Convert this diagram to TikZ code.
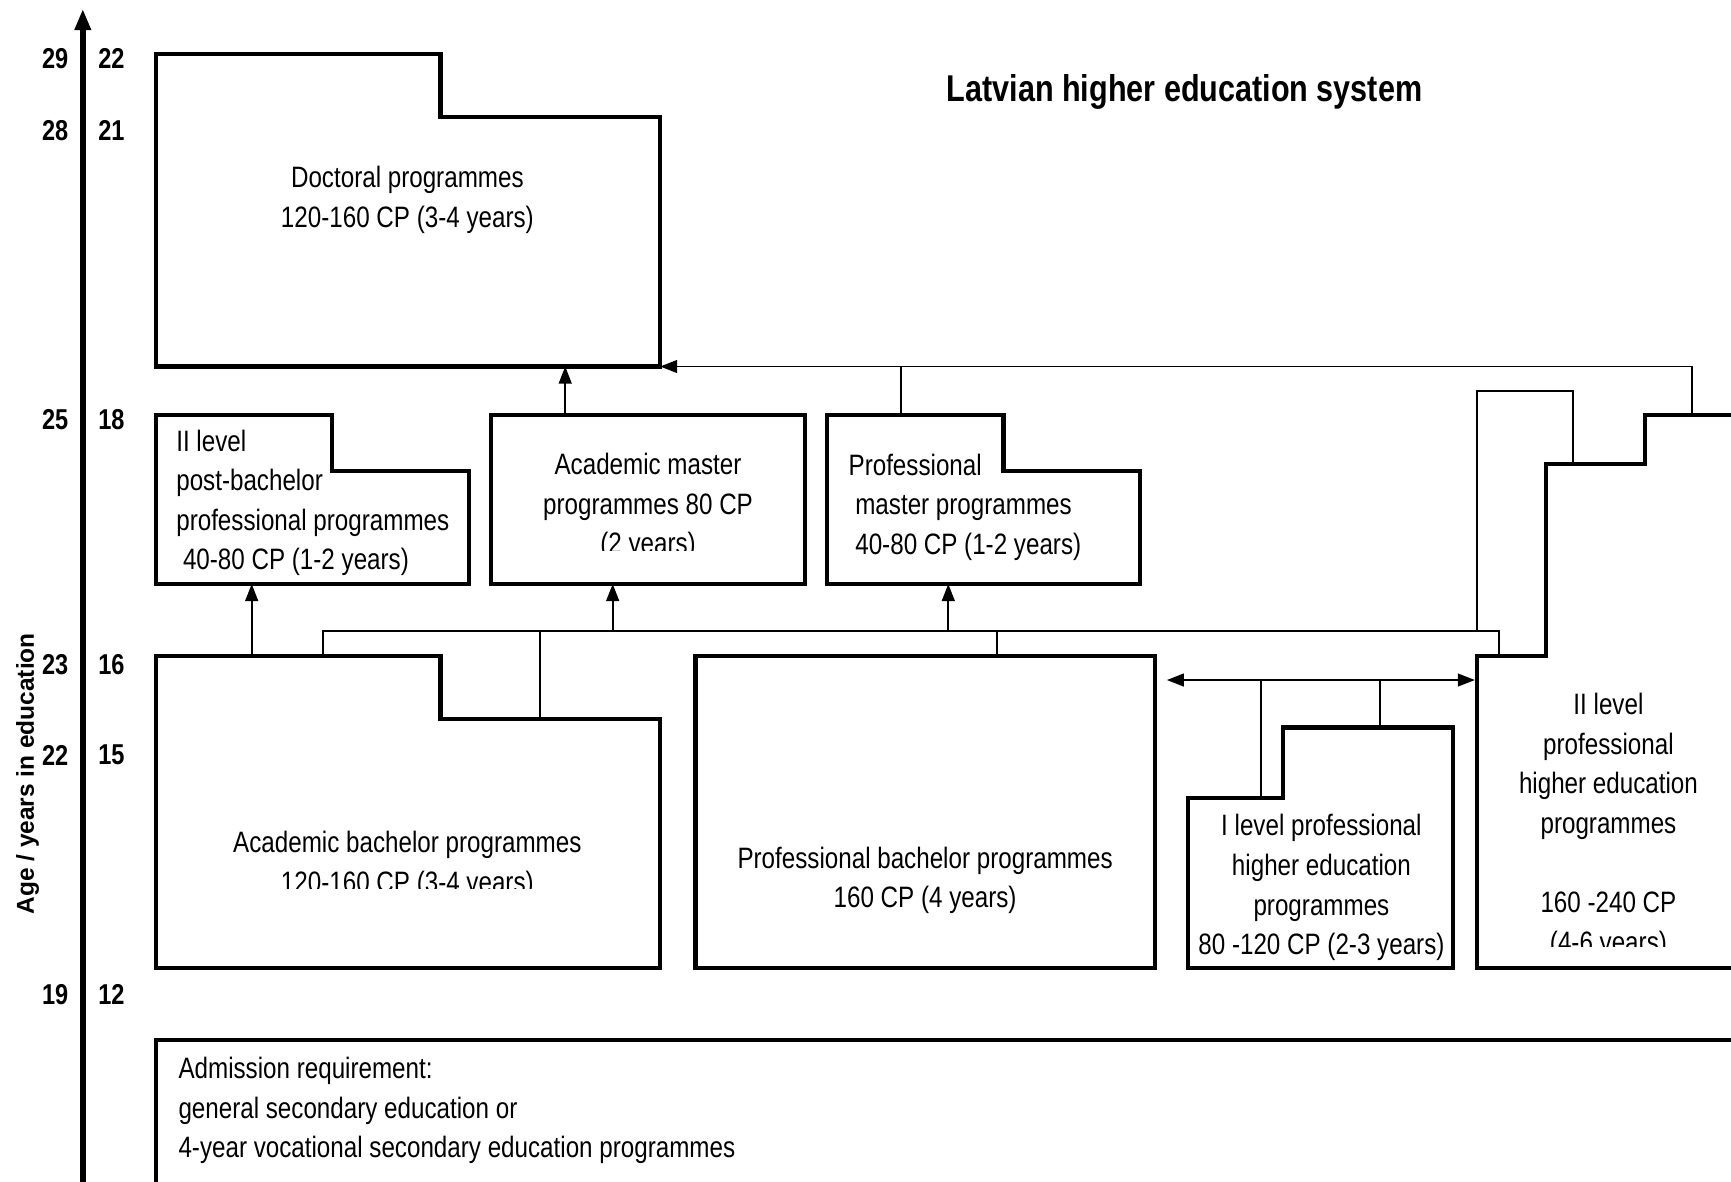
\documentclass[tikz,border=0pt]{standalone}
\usepackage{fontspec}
\setmainfont{Liberation Sans}[FakeStretch=0.82]
\newfontfamily\widefont{Liberation Sans}
\usetikzlibrary{arrows,arrows.meta}

\begin{document}
\begin{tikzpicture}[x=0.01cm,y=-0.01cm,
	box/.style={line width=1.05pt,line join=miter},
	link/.style={line width=0.5pt},
	arr/.style={link,-{Triangle[length=4.4pt,width=3.3pt]}},
	txt/.style={align=center,inner sep=0pt,font=\fontsize{7.6}{10.2}\selectfont},
	ltxt/.style={txt,align=left,anchor=west},
	num/.style={inner sep=0pt,font=\fontsize{7.4}{9}\selectfont\bfseries}]
	\useasboundingbox (0,0) rectangle (1568,1070);
	% axis
	\coordinate (ax-bot) at (75,1075);
	\coordinate (ax-top) at (75,8);
	\draw[line width=1.4pt,-{Triangle[length=5.5pt,width=4pt]}] (ax-bot) -- (ax-top);
	\foreach \a/\b/\y in {29/22/53,28/21/118,25/18/380,23/16/602,22/15/684,19/12/901} {
		\node[num] (age\a) at (50,\y) {\a};
		\node[num] (yr\b) at (101,\y) {\b};
	}
	\node[rotate=90,inner sep=0pt,font=\widefont\bfseries\fontsize{6.3}{8}\selectfont] (axlabel) at (25,701) {Age / years in education};
	\node[inner sep=0pt,font=\fontsize{9.6}{11}\selectfont\bfseries] (title) at (1073,83) {Latvian higher education system};
	% boxes
	\draw[box] (141,49) -- (399,49) -- (399,106) -- (598,106) -- (598,332) -- (141,332) -- cycle;
	\node[txt] (doc) at (369,181) {Doctoral programmes\\120-160 CP (3-4 years)};
	\draw[box] (141,376) -- (301,376) -- (301,427) -- (425,427) -- (425,529) -- (141,529) -- cycle;
	\node[ltxt] (pbp) at (159,455.5) {II level\\post-bachelor\\professional programmes\\\ 40-80 CP (1-2 years)};
	\draw[box] (445,376) rectangle (729,529);
	\begin{scope}
		\clip (445,376) rectangle (729,499);
		\node[txt] (amp) at (587,459) {Academic master\\programmes 80 CP\\(2 years)};
	\end{scope}
	\draw[box] (749,376) -- (909,376) -- (909,427) -- (1033,427) -- (1033,529) -- (749,529) -- cycle;
	\node[ltxt] (pmp) at (768,459.5) {Professional\\\ master programmes\\\ 40-80 CP (1-2 years)};
	\draw[box] (141,594) -- (399,594) -- (399,651) -- (598,651) -- (598,877) -- (141,877) -- cycle;
	\begin{scope}
		\clip (141,594) rectangle (598,805);
		\node[txt] (abp) at (369,783.5) {Academic bachelor programmes\\120-160 CP (3-4 years)};
	\end{scope}
	\draw[box] (630,594) rectangle (1046,877);
	\node[txt] (prb) at (838,797.5) {Professional bachelor programmes\\160 CP (4 years)};
	\draw[box] (1076,723) -- (1162,723) -- (1162,659) -- (1316,659) -- (1316,877) -- (1076,877) -- cycle;
	\node[txt] (ilv) at (1197,804) {I level professional\\higher education\\programmes\\80 -120 CP (2-3 years)};
	\draw[box] (1575,877) -- (1338,877) -- (1338,594) -- (1400,594) -- (1400,420) -- (1490,420) -- (1490,376) -- (1575,376);
	\begin{scope}
		\clip (1338,594) rectangle (1568,857);
		\node[txt] (iilv) at (1457,748) {II level\\professional\\higher education\\programmes\\ \\160 -240 CP\\(4-6 years)};
	\end{scope}
	\draw[box] (1575,942) -- (141,942) -- (141,1075);
	\node[ltxt] (adm) at (161,1006) {Admission requirement:\\general secondary education or\\4-year vocational secondary education programmes};
	% connector ends
	\coordinate (doc-s) at (512,332);
	\coordinate (doc-se) at (598,332);
	\coordinate (amp-n) at (512,376);
	\coordinate (pmp-n) at (816,376);
	\coordinate (pmp-up) at (816,332);
	\coordinate (iilv-n) at (1533,376);
	\coordinate (iilv-up) at (1533,332);
	\coordinate (pbp-s) at (228,529);
	\coordinate (abp-n) at (228,594);
	\coordinate (amp-s) at (555,529);
	\coordinate (amp-dn) at (555,572);
	\coordinate (pmp-s) at (859,529);
	\coordinate (pmp-dn) at (859,572);
	\coordinate (bl-w) at (293,572);
	\coordinate (bl-e) at (1358,572);
	\coordinate (abp-nw) at (293,594);
	\coordinate (abp-step) at (489,651);
	\coordinate (abp-up) at (489,572);
	\coordinate (prb-n) at (903,594);
	\coordinate (prb-up) at (903,572);
	\coordinate (iilv-nw) at (1358,594);
	\coordinate (iilv-step) at (1425,420);
	\coordinate (loop-a) at (1338,572);
	\coordinate (loop-b) at (1338,354);
	\coordinate (loop-c) at (1425,354);
	\coordinate (prb-e) at (1057,616);
	\coordinate (iilv-w) at (1336,616);
	\coordinate (ilv-step) at (1142,723);
	\coordinate (ilv-stepup) at (1142,616);
	\coordinate (ilv-n) at (1250,659);
	\coordinate (ilv-up) at (1250,616);
	% connectors
	\draw[arr] (amp-n) -- (doc-s);
	\draw[arr] (iilv-n) -- (iilv-up) -- (doc-se);
	\draw[link] (pmp-n) -- (pmp-up);
	\draw[arr] (abp-n) -- (pbp-s);
	\draw[link] (abp-nw) -- (bl-w) -- (bl-e) -- (iilv-nw);
	\draw[link] (abp-step) -- (abp-up);
	\draw[link] (prb-n) -- (prb-up);
	\draw[arr] (amp-dn) -- (amp-s);
	\draw[arr] (pmp-dn) -- (pmp-s);
	\draw[link] (loop-a) -- (loop-b) -- (loop-c) -- (iilv-step);
	\draw[link,{Triangle[length=4.4pt,width=3.3pt]}-{Triangle[length=4.4pt,width=3.3pt]}] (prb-e) -- (iilv-w);
	\draw[link] (ilv-step) -- (ilv-stepup);
	\draw[link] (ilv-n) -- (ilv-up);
\end{tikzpicture}
\end{document}
